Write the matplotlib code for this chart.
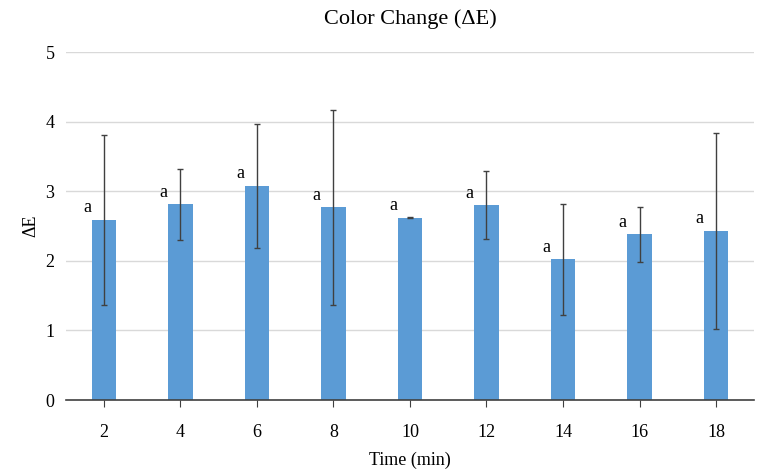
import numpy as np
import matplotlib.pyplot as plt

plt.rcParams["font.family"] = "Liberation Serif"

times = ["2", "4", "6", "8", "10", "12", "14", "16", "18"]
delta_e = [2.59, 2.81, 3.08, 2.77, 2.62, 2.80, 2.02, 2.38, 2.43]
err = [1.22, 0.51, 0.89, 1.40, 0.01, 0.49, 0.80, 0.39, 1.41]
letters = ["a"] * 9

x = np.arange(len(times))
fig = plt.figure(figsize=(7.62, 4.69), dpi=100)
ax = fig.add_axes([0.086, 0.147, 0.904, 0.742])
ax.bar(x, delta_e, width=0.32, color="#5B9BD5", zorder=2)
ax.errorbar(x, delta_e, yerr=err, fmt="none", ecolor="#404040", elinewidth=1,
            capsize=2.5, capthick=1, zorder=3)
for xi, v, t in zip(x, delta_e, letters):
    ax.text(xi - 0.22, v + 0.05, t, ha="center", va="bottom", fontsize=13)

ax.set_xlim(-0.5, 8.5)
ax.set_ylim(0, 5)
ax.set_xticks(x)
ax.set_xticklabels(times)
ax.set_yticks(range(6))
ax.yaxis.grid(True, color="#d9d9d9", linewidth=1)
ax.set_axisbelow(True)
for s in ["top", "right", "left"]:
    ax.spines[s].set_visible(False)
ax.spines["bottom"].set_color("#404040")
ax.spines["bottom"].set_linewidth(1.2)
ax.tick_params(axis="y", length=0, labelsize=13, pad=8)
ax.tick_params(axis="x", labelsize=13, color="#404040", length=5, pad=12)
ax.set_xlabel("Time (min)", fontsize=13, labelpad=8)
ax.set_ylabel("ΔE", fontsize=13)
ax.set_title("Color Change (ΔE)", fontsize=16, pad=20)
fig.savefig("out.png", dpi=100)
